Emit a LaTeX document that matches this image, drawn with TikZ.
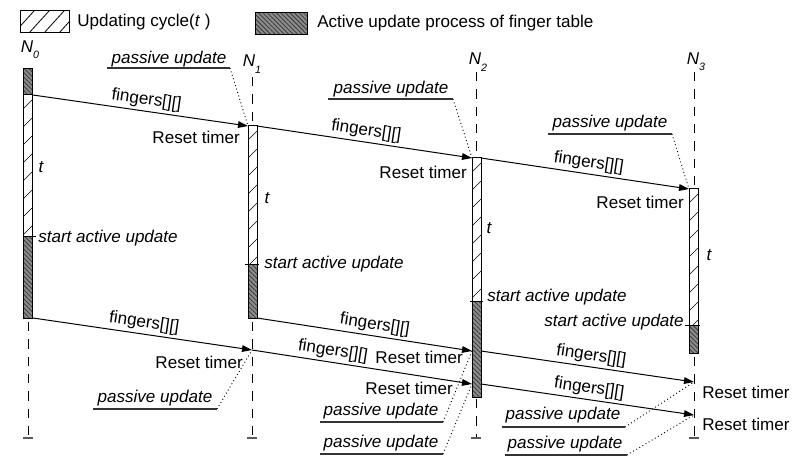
\documentclass[tikz,border=0pt]{standalone}
\usepackage{fontspec}
\setmainfont{Liberation Sans}
\usetikzlibrary{arrows.meta,patterns.meta}

% bar with sparse "/" hatching: #1 left x, #2 top y, #3 bottom y
\newcommand\lightbar[3]{%
  \fill[white] (#1,#2) rectangle ({#1+9},#3);
  \begin{scope}
    \clip (#1,#2) rectangle ({#1+9},#3);
    \foreach \k in {0,...,12} {\draw[thin] (#1,{#2+14+18*\k}) -- ++(9,-9);}
  \end{scope}
  \draw[barline] (#1,#2) rectangle ({#1+9},#3);}
% bar with dense dark hatching
\newcommand\darkbar[3]{%
  \fill[darkfill] (#1,#2) rectangle ({#1+9},#3);
  \fill[darkpat] (#1,#2) rectangle ({#1+9},#3);
  \draw[barline] (#1,#2) rectangle ({#1+9},#3);}

\begin{document}
\begin{tikzpicture}[x=0.75pt,y=-0.75pt,
  every node/.style={font=\fontsize{12.8}{15}\selectfont,inner sep=0pt},
  barline/.style={draw=black,line width=0.75pt},
  darkfill/.style={fill=black!45},
  darkpat/.style={pattern={Lines[angle=-45,distance=2.4pt,line width=0.7pt]},pattern color=black!75},
  lifeline/.style={draw=black,line width=0.75pt,dash pattern=on 7pt off 6pt},
  endtick/.style={draw=black!65,line width=1.1pt},
  msg/.style={draw=black,line width=0.75pt,-{Triangle[length=7.5pt,width=5pt]}},
  lbl/.style={sloped,above=2pt},
  leader/.style={draw=black,line width=0.7pt,dotted},
  uline/.style={draw=black!80,line width=0.8pt},
  note/.style={font=\fontsize{12.8}{15}\selectfont\itshape},
  tick/.style={draw=black,line width=0.75pt}]
\useasboundingbox (0,0) rectangle (800,456);

% ---------- legend ----------
\fill[white] (20,11) rectangle (69,33);
\begin{scope}
  \clip (20,11) rectangle (69,33);
  \foreach \k in {0,...,4} {\draw[line width=0.6pt] ({14+15*\k},33) -- ++(20,-22);}
\end{scope}
\draw[barline] (20,11) rectangle (69,33);
\node[anchor=west] (lg1) at (77,22) {Updating cycle(\textit{t} )};
\fill[darkfill] (255,13) rectangle (307,35);
\fill[darkpat] (255,13) rectangle (307,35);
\draw[barline] (255,13) rectangle (307,35);
\node[anchor=west] (lg2) at (317,23) {Active update process of finger table};

% ---------- node labels ----------
\node (n0) at (30,50) {\textit{N}\raisebox{-0.7ex}{\fontsize{8}{9}\selectfont\itshape 0}};
\node (n1) at (252,64) {\textit{N}\raisebox{-0.7ex}{\fontsize{8}{9}\selectfont\itshape 1}};
\node (n2) at (478,62) {\textit{N}\raisebox{-0.7ex}{\fontsize{8}{9}\selectfont\itshape 2}};
\node (n3) at (696,62) {\textit{N}\raisebox{-0.7ex}{\fontsize{8}{9}\selectfont\itshape 3}};

% ---------- lifelines ----------
\draw[lifeline] (28,322) -- (28,438);
\draw[lifeline] (252,77) -- (252,126);
\draw[lifeline] (252,322) -- (252,438);
\draw[lifeline] (476,72) -- (476,158);
\draw[lifeline] (476,399) -- (476,438);
\draw[lifeline] (694,72) -- (694,189);
\draw[lifeline] (694,357) -- (694,438);
\foreach \x in {28,252,476,694} {\draw[endtick] ({\x-5},438) -- ({\x+5},438);}

% ---------- activation bars ----------
\darkbar{23}{69}{95}
\lightbar{23}{95}{237}
\darkbar{23}{237}{318}
\lightbar{248}{126}{264}
\darkbar{248}{264}{318}
\lightbar{472}{158}{301}
\darkbar{472}{301}{397}
\lightbar{689}{189}{325}
\darkbar{689}{325}{353}

% start-of-active-update marks
\draw[tick] (23,237) -- (36,237);
\draw[tick] (245,264) -- (259,264);
\draw[tick] (470,301) -- (483,301);
\draw[tick] (685,325) -- (700,325);

% ---------- end points of messages ----------
\coordinate (a1s) at (33,95);   \coordinate (a1e) at (248,126);
\coordinate (a2s) at (257,126); \coordinate (a2e) at (472,158);
\coordinate (a3s) at (481,158); \coordinate (a3e) at (689,189);
\coordinate (b1s) at (33,318);  \coordinate (b1e) at (252,350);
\coordinate (b2s) at (257,318); \coordinate (b2e) at (472,351);
\coordinate (b3e) at (472,384);
\coordinate (b4s) at (481,351); \coordinate (b4e) at (694,382);
\coordinate (b5s) at (481,384); \coordinate (b5e) at (694,415);

% ---------- messages ----------
\draw[msg] (a1s) -- node[lbl,pos=.52] (f1) {fingers[][]} (a1e);
\draw[msg] (a2s) -- node[lbl,pos=.5] (f2) {fingers[][]} (a2e);
\draw[msg] (a3s) -- node[lbl,pos=.51] (f3) {fingers[][]} (a3e);
\draw[msg] (b1s) -- node[lbl,pos=.5] (f4) {fingers[][]} (b1e);
\draw[msg] (b2s) -- node[lbl,pos=.54] (f5) {fingers[][]} (b2e);
\draw[msg] (b1e) -- node[lbl,pos=.36] (f6) {fingers[][]} (b3e);
\draw[msg] (b4s) -- node[lbl,pos=.51] (f7) {fingers[][]} (b4e);
\draw[msg] (b5s) -- node[lbl,pos=.5] (f8) {fingers[][]} (b5e);

% ---------- reset timer ----------
\node[anchor=east] (r1) at (240,137) {Reset timer};
\node[anchor=east] (r2) at (467,172) {Reset timer};
\node[anchor=east] (r3) at (684,202) {Reset timer};
\node[anchor=east] (r4) at (243,362) {Reset timer};
\node[anchor=east] (r5) at (463,357) {Reset timer};
\node[anchor=east] (r6) at (453,388) {Reset timer};
\node[anchor=west] (r7) at (702,392) {Reset timer};
\node[anchor=west] (r8) at (702,424) {Reset timer};

% ---------- cycle and start labels ----------
\node[note] (t0) at (41,167) {t};
\node[note] (t1) at (267,198) {t};
\node[note] (t2) at (489,228) {t};
\node[note] (t3) at (709,255) {t};
\node[note,anchor=west] (s0) at (38,238) {start active update};
\node[note,anchor=west] (s1) at (264,264) {start active update};
\node[note,anchor=west] (s2) at (487,297) {start active update};
\node[note,anchor=east] (s3) at (684,322) {start active update};

% ---------- passive update notes ----------
\node[note] (p1) at (169,59) {passive update};
\draw[uline] (107,68) -- coordinate (u1) (230,68);
\draw[leader] (230,68) -- (a1e);
\node[note] (p2) at (391,89) {passive update};
\draw[uline] (328,99) -- (453,99);
\draw[leader] (453,99) -- (a2e);
\node[note] (p3) at (610,123) {passive update};
\draw[uline] (548,134) -- (672,134);
\draw[leader] (672,134) -- (a3e);
\node[note] (p4) at (155,398) {passive update};
\draw[uline] (93,409) -- (217,409);
\draw[leader] (217,409) -- (b1e);
\node[note] (p5) at (381,411) {passive update};
\draw[uline] (320,422) -- (443,422);
\draw[leader] (443,422) -- (b2e);
\node[note] (p6) at (381,443) {passive update};
\draw[uline] (320,454) -- (443,454);
\draw[leader] (443,454) -- (b3e);
\node[note] (p7) at (563,415) {passive update};
\draw[uline] (502,427) -- (625,427);
\draw[leader] (625,427) -- (b4e);
\node[note] (p8) at (565,444) {passive update};
\draw[uline] (505,455) -- (627,455);
\draw[leader] (627,455) -- (b5e);
\end{tikzpicture}
\end{document}
